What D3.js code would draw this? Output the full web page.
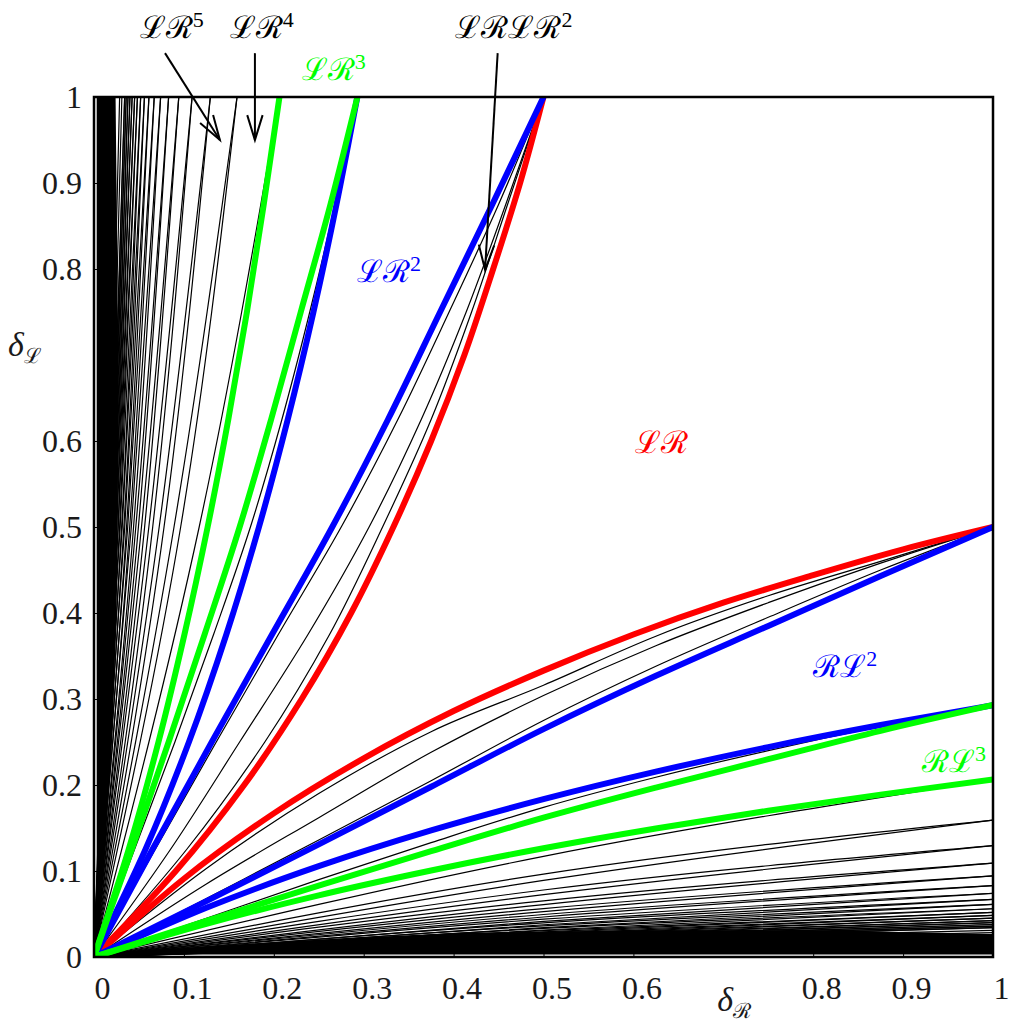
<!DOCTYPE html>
<html><head><meta charset="utf-8">
<script src="https://cdn.jsdelivr.net/npm/d3@7"></script>
<style>body{margin:0;background:#fff}svg{display:block}</style>
</head><body>
<svg id="c" width="1016" height="1024"></svg>
<script>
// ---------- data ----------
const xTicks = [0,0.1,0.2,0.3,0.4,0.5,0.6,0.8,0.9,1];
const yTicks = [0,0.1,0.2,0.3,0.4,0.5,0.6,0.8,0.9,1];

// coloured boundary curves, [deltaR, deltaL]
const redUpper   = [[0,0],[0.091,0.1],[0.167,0.2],[0.231,0.3],[0.286,0.4],[0.333,0.5],[0.375,0.6],[0.412,0.7],[0.444,0.8],[0.474,0.9],[0.5,1]];
const redLower   = [[0,0],[0.1,0.091],[0.2,0.167],[0.3,0.231],[0.4,0.286],[0.5,0.333],[0.6,0.375],[0.7,0.412],[0.8,0.444],[0.9,0.474],[1,0.5]];
const blueUpperA = [[0,0],[0.065,0.125],[0.131,0.25],[0.198,0.375],[0.265,0.5],[0.327,0.625],[0.385,0.75],[0.443,0.875],[0.5,1]];
const blueLowerA = [[0,0],[0.125,0.065],[0.25,0.131],[0.375,0.198],[0.5,0.265],[0.625,0.327],[0.75,0.385],[0.875,0.443],[1,0.5]];
const blueUpperB = [[0,0],[0.0572,0.125],[0.1056,0.25],[0.1472,0.375],[0.1835,0.5],[0.2155,0.625],[0.2441,0.75],[0.2697,0.875],[0.2929,1]];
const blueLowerB = [[0,0],[0.125,0.0572],[0.25,0.1056],[0.375,0.1472],[0.5,0.1835],[0.625,0.2155],[0.75,0.2441],[0.875,0.2697],[1,0.2929]];
const greenUpperA = [[0,0],[0.042,0.125],[0.083,0.25],[0.123,0.375],[0.162,0.5],[0.197,0.625],[0.23,0.75],[0.263,0.875],[0.293,1]];
const greenLowerA = [[0,0],[0.125,0.042],[0.25,0.083],[0.375,0.123],[0.5,0.162],[0.625,0.197],[0.75,0.23],[0.875,0.263],[1,0.293]];
const greenUpperB = [[0,0],[0.0385,0.125],[0.0717,0.25],[0.1006,0.375],[0.1264,0.5],[0.1494,0.625],[0.1701,0.75],[0.1888,0.875],[0.2063,1]];
const greenLowerB = [[0,0],[0.125,0.0385],[0.25,0.0717],[0.375,0.1006],[0.5,0.1264],[0.625,0.1494],[0.75,0.1701],[0.875,0.1888],[1,0.2063]];

// thin black curves lying between coloured ones
const extraUpper = [
  [[0,0],[0.045,0.125],[0.09,0.25],[0.133,0.375],[0.174,0.5],[0.209,0.625],[0.24,0.75],[0.268,0.875],[0.293,1]],
  [[0,0],[0.068,0.125],[0.136,0.25],[0.205,0.375],[0.275,0.5],[0.338,0.625],[0.395,0.75],[0.45,0.875],[0.5,1]],
  [[0,0],[0.085,0.125],[0.162,0.25],[0.238,0.375],[0.306,0.5],[0.364,0.625],[0.414,0.75],[0.458,0.875],[0.5,1]],
  [[0,0],[0.103,0.125],[0.19,0.25],[0.262,0.375],[0.321,0.5],[0.375,0.625],[0.42,0.75],[0.46,0.875],[0.5,1]]
];
const extraLower = [
  [[0,0],[0.125,0.045],[0.25,0.09],[0.375,0.133],[0.5,0.174],[0.625,0.209],[0.75,0.24],[0.875,0.268],[1,0.293]],
  [[0,0],[0.125,0.068],[0.25,0.136],[0.375,0.205],[0.5,0.275],[0.625,0.338],[0.75,0.395],[0.875,0.45],[1,0.5]],
  [[0,0],[0.125,0.085],[0.25,0.162],[0.375,0.238],[0.5,0.304],[0.625,0.362],[0.75,0.412],[0.875,0.458],[1,0.5]],
  [[0,0],[0.125,0.103],[0.25,0.19],[0.375,0.262],[0.5,0.316],[0.625,0.373],[0.75,0.42],[0.875,0.46],[1,0.5]]
];

// fan of black curves near the deltaL axis: [deltaR at deltaL=0.5, deltaR at deltaL=1]
const upperFan = [[0.117,0.2063],[0.0964,0.1591],[0.089,0.1591],[0.0779,0.1294],[0.0725,0.1294],[0.0653,0.1091],[0.061,0.1091],
  [0.0563,0.0943],[0.0528,0.0943],[0.0494,0.083],[0.0465,0.083],[0.044,0.0741],[0.0415,0.0741],[0.0397,0.067],[0.0375,0.067],
  [0.0362,0.0611],[0.0342,0.0611],[0.0332,0.0561],[0.0314,0.0561],[0.0307,0.0519],[0.0291,0.0519],[0.0285,0.0483],[0.027,0.0483],
  [0.0267,0.0452],[0.0253,0.0452],[0.025,0.0424],[0.0237,0.0424],[0.0236,0.04],[0.0224,0.04],[0.0223,0.0378],[0.0212,0.0378],
  [0.0211,0.0358],[0.02,0.0358],[0.0201,0.0341],[0.019,0.0341],[0.0183,0.031],[0.0168,0.0285]];
// fan near the deltaR axis: [deltaL at deltaR=0.5, deltaL at deltaR=1]
const lowerFan = [[0.117,0.2063],[0.0964,0.1591],[0.089,0.1591],[0.0779,0.1294],[0.0725,0.1294],[0.0653,0.1091],[0.061,0.1091],
  [0.0563,0.0943],[0.0528,0.0943],[0.0494,0.083],[0.0465,0.083],[0.044,0.0741],[0.0415,0.0741],[0.0397,0.067],[0.0375,0.067],
  [0.0362,0.0611],[0.0342,0.0611],[0.0332,0.0561],[0.0314,0.0561],[0.0307,0.0519],[0.0291,0.0519],[0.0285,0.0483],[0.027,0.0483],
  [0.0267,0.0452],[0.0253,0.0452],[0.025,0.0424],[0.0237,0.0424],[0.0236,0.04],[0.0224,0.04],[0.0223,0.0378],[0.0212,0.0378],
  [0.0211,0.0358],[0.02,0.0358],[0.0201,0.0341],[0.019,0.0341],[0.0183,0.031],[0.0168,0.0285]];

// solid black bands where the curves are too dense to separate
const leftBand   = [[0.003,0.003],[0.003,1],[0.024,1],[0.026,0.8],[0.027,0.6],[0.025,0.4],[0.02,0.25],[0.012,0.12],[0.004,0.02]];
const bottomBand = [[0.003,0.003],[1,0.003],[1,0.027],[0.8,0.031],[0.6,0.031],[0.4,0.028],[0.25,0.02],[0.12,0.012],[0.02,0.004]];

const regionLabels = [
  {t:"ℒℛ", s:"5", pos:[0.051,1.069], c:"#000"},
  {t:"ℒℛ", s:"4", pos:[0.151,1.069], c:"#000"},
  {t:"ℒℛ", s:"3", pos:[0.231,1.020], c:"#00ff00"},
  {t:"ℒℛℒℛ", s:"2", pos:[0.402,1.069], c:"#000"},
  {t:"ℒℛ", s:"2", pos:[0.2925,0.785], c:"#0000ff"},
  {t:"ℒℛ", s:"",  pos:[0.602,0.586], c:"#ff0000"},
  {t:"ℛℒ", s:"2", pos:[0.80,0.326], c:"#0000ff"},
  {t:"ℛℒ", s:"3", pos:[0.921,0.215], c:"#00ff00"}
];
const arrows = [
  {from:[0.079,1.051], to:[0.140,0.950]},
  {from:[0.179,1.051], to:[0.179,0.950]},
  {from:[0.449,1.051], to:[0.435,0.799]}
];

// ---------- drawing ----------
const svg = d3.select("#c");
svg.append("rect").attr("width",1016).attr("height",1024).attr("fill","#fff");
const x = d3.scaleLinear().domain([0,1]).range([94,993]);
const y = d3.scaleLinear().domain([0,1]).range([957,97]);

svg.append("defs").append("clipPath").attr("id","clip").append("rect")
  .attr("x",x(0)).attr("y",y(1)).attr("width",x(1)-x(0)).attr("height",y(0)-y(1));
const plot = svg.append("g").attr("clip-path","url(#clip)");

const lineU = d3.line().x(d=>x(d[0])).y(d=>y(d[1])).curve(d3.curveMonotoneY);
const lineL = d3.line().x(d=>x(d[0])).y(d=>y(d[1])).curve(d3.curveMonotoneX);
const poly  = d3.line().x(d=>x(d[0])).y(d=>y(d[1]));

plot.append("path").attr("d", poly(leftBand)+"Z").attr("fill","#000");
plot.append("path").attr("d", poly(bottomBand)+"Z").attr("fill","#000");

const blk = plot.append("g").attr("fill","none").attr("stroke","#000").attr("stroke-width",1.2);
upperFan.forEach(([m,t]) => blk.append("path").attr("d", lineU([[0,0],[m,0.5],[t,1]])));
lowerFan.forEach(([m,t]) => blk.append("path").attr("d", lineL([[0,0],[0.5,m],[1,t]])));
extraUpper.forEach(p => blk.append("path").attr("d", lineU(p)));
extraLower.forEach(p => blk.append("path").attr("d", lineL(p)));

const col = plot.append("g").attr("fill","none").attr("stroke-width",6).attr("stroke-linecap","butt");
[[redUpper,"U","#ff0000"],[redLower,"L","#ff0000"],
 [blueUpperA,"U","#0000ff"],[blueLowerA,"L","#0000ff"],[blueUpperB,"U","#0000ff"],[blueLowerB,"L","#0000ff"],
 [greenUpperA,"U","#00ff00"],[greenLowerA,"L","#00ff00"],[greenUpperB,"U","#00ff00"],[greenLowerB,"L","#00ff00"]]
 .forEach(([p,k,c]) => col.append("path").attr("d",(k==="U"?lineU:lineL)(p)).attr("stroke",c));

// axes
const fontNum = "'Liberation Serif'";
const ax = d3.axisBottom(x).tickValues(xTicks).tickFormat(d=>String(d)).tickSizeInner(-8).tickSizeOuter(0).tickPadding(19);
const gx = svg.append("g").attr("transform",`translate(0,${y(0)})`).call(ax);
const ay = d3.axisLeft(y).tickValues(yTicks).tickFormat(d=>String(d)).tickSizeInner(-8).tickSizeOuter(0).tickPadding(12);
const gy = svg.append("g").attr("transform",`translate(${x(0)},0)`).call(ay);
[gx,gy].forEach(g=>{
  g.attr("font-family",null);
  g.select(".domain").remove();
  g.selectAll("line").attr("stroke","#000").attr("stroke-width",1);
  g.selectAll("text").style("font-family",fontNum).style("font-size","32px").attr("fill","#1a1a1a");
});
gx.selectAll("text").attr("dx",8);

svg.append("rect").attr("x",x(0)).attr("y",y(1)).attr("width",x(1)-x(0)).attr("height",y(0)-y(1))
  .attr("fill","none").attr("stroke","#000").attr("stroke-width",2.5);

// axis titles
const tL = svg.append("text").attr("x",8).attr("y",y(0.71)+10).attr("fill","#1a1a1a")
  .style("font-family",fontNum).style("font-size","34px");
tL.append("tspan").style("font-style","italic").text("δ");
tL.append("tspan").style("font-size","21px").attr("dy",7).text("ℒ");
const tR = svg.append("text").attr("x",x(0.70)-6).attr("y",1011).attr("fill","#1a1a1a")
  .style("font-family",fontNum).style("font-size","34px");
tR.append("tspan").style("font-style","italic").text("δ");
tR.append("tspan").style("font-size","21px").attr("dy",7).text("ℛ");

// region labels
regionLabels.forEach(l=>{
  const t = svg.append("text").attr("x",x(l.pos[0])).attr("y",y(l.pos[1])).attr("fill",l.c)
    .style("font-family",fontNum).style("font-size","31px");
  t.append("tspan").text(l.t);
  if (l.s) t.append("tspan").style("font-size","22px").attr("dy",-11).text(l.s);
});

// arrows
arrows.forEach(a=>{
  const x0=x(a.from[0]), y0=y(a.from[1]), x1=x(a.to[0]), y1=y(a.to[1]);
  const ang = Math.atan2(y1-y0, x1-x0), L=26, sp=0.3;
  const g = svg.append("g").attr("stroke","#000").attr("stroke-width",2).attr("fill","none");
  g.append("line").attr("x1",x0).attr("y1",y0).attr("x2",x1).attr("y2",y1);
  g.append("polyline").attr("points",[
    [x1-L*Math.cos(ang-sp), y1-L*Math.sin(ang-sp)], [x1,y1],
    [x1-L*Math.cos(ang+sp), y1-L*Math.sin(ang+sp)]].map(p=>p.join(",")).join(" "));
});
</script>
</body></html>
